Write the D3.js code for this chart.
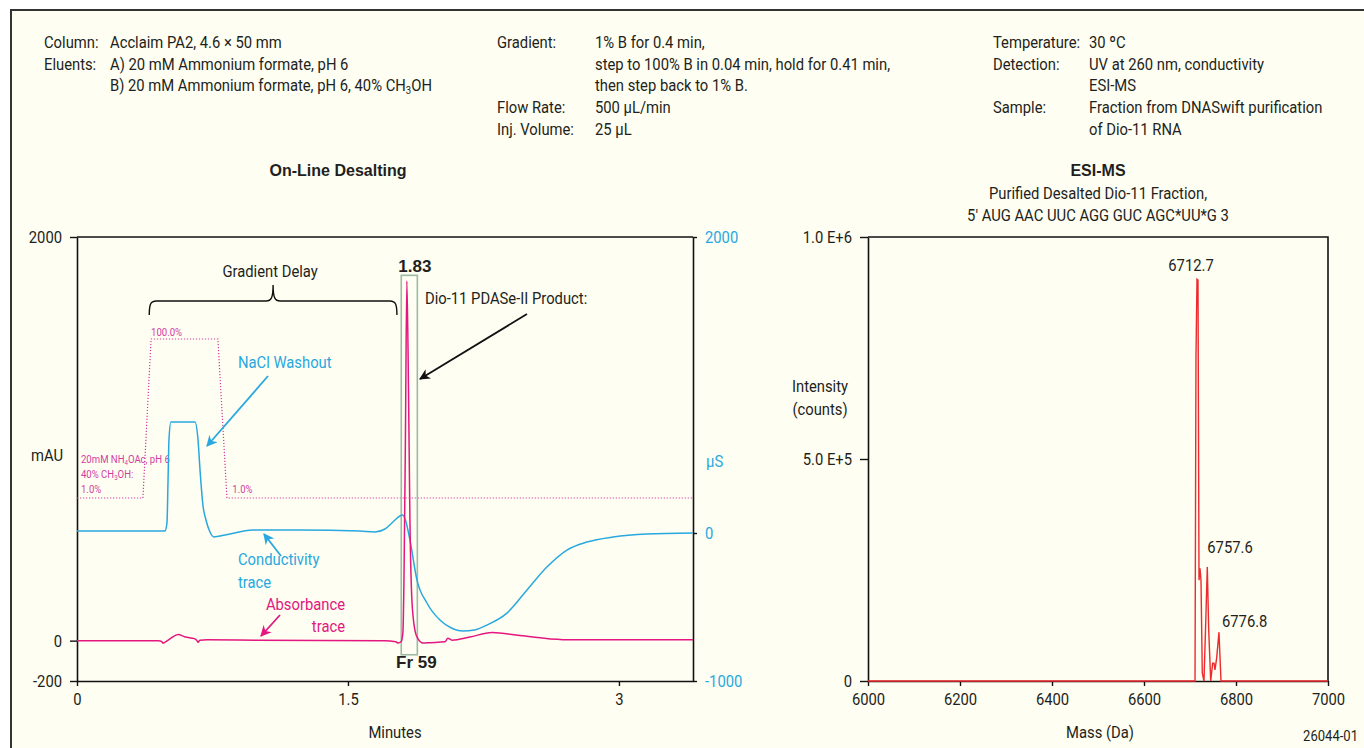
<!DOCTYPE html>
<html><head><meta charset="utf-8">
<script src="https://cdn.jsdelivr.net/npm/d3@7"></script>
<style>
html,body{margin:0;padding:0;background:#fff;}
svg{display:block;}
text{font-family:Roboto,'Liberation Sans',sans-serif;fill:#231f20;}
.bold{font-family:'Liberation Sans',Arial,sans-serif;font-weight:bold;}
</style></head><body>
<svg id="c" width="1364" height="748"></svg>
<script>
// ---------------- DATA ----------------
// Conductivity trace (minutes, µS)
const condTime  = [0, 0.40, 0.487, 0.498, 0.504, 0.509, 0.520, 0.653, 0.670, 0.681, 0.697, 0.714, 0.736, 0.758, 0.819, 0.974, 1.234, 1.566, 1.649, 1.705, 1.749, 1.787, 1.804, 1.821, 1.843, 1.882, 1.937, 2.009, 2.070, 2.136, 2.200, 2.269, 2.380, 2.491, 2.601, 2.712, 2.823, 2.967, 3.155, 3.41];
const condValue = [13, 13, 13, 68, 358, 628, 750, 750, 628, 426, 189, 88, 7, -27, -14, 20, 20, 13, 7, 27, 74, 115, 122, 74, -47, -318, -473, -588, -640, -662, -655, -622, -541, -385, -230, -115, -61, -27, -7, 0];
// Absorbance trace (minutes, mAU)
const absTime  = [0, 0.45, 0.468, 0.476, 0.49, 0.52, 0.559, 0.60, 0.65, 0.664, 0.670, 0.68, 0.72, 1.00, 1.70, 1.765, 1.777, 1.795, 1.804, 1.810, 1.818, 1.826, 1.835, 1.843, 1.854, 1.871, 1.887, 1.915, 1.954, 2.037, 2.053, 2.076, 2.175, 2.297, 2.452, 2.690, 3.41];
const absValue = [0, 0, -4, -12, -6, 12, 30, 18, 10, 0, -8, 2, 4, 2, 0, -5, -12, -4, 40, 300, 1000, 1782, 1250, 600, 200, 50, 10, -12, -10, -6, 12, 2, 18, 40, 25, 5, 5];
// Gradient program (minutes, %B)
const gradTime = [0, 0.365, 0.41, 0.78, 0.83, 3.41];
const gradPctB = [1, 1, 100, 100, 1, 1];
// Fraction 59 collection window
const fracWindow = [1.795, 1.884];
const fracRange  = [-70, 1810];
// Axis ticks
const mauTicks  = [-200, 0, 2000];
const usTicks   = [-1000, 0, 2000];
const timeTicks = [0, 1.5, 3];
const timeTickLabels = ["0", "1.5", "3"];
// ESI-MS spectrum (Da, counts)
const msMass      = [6000, 6710.9, 6713.0, 6715.2, 6717.4, 6719.6, 6721.7, 6723.9, 6726.7, 6730.4, 6734.8, 6737.6, 6740.7, 6745.0, 6749.3, 6752.2, 6754.3, 6758.0, 6763.0, 6765.2, 6767.4, 7000];
const msIntensity = [0, 0, 730000, 905000, 903000, 227000, 254000, 227000, 18000, 0, 153000, 257000, 115000, 0, 40000, 40000, 25000, 52000, 110000, 54000, 0, 0];
const massTicks = [6000, 6200, 6400, 6600, 6800, 7000];
const intensityTicks = [0, 500000, 1000000];
const intensityTickLabels = ["0", "5.0 E+5", "1.0 E+6"];
const peakMass   = [6715.2, 6737.6, 6763.0];
const peakHeight = [905000, 257000, 110000];
const peakLabels = ["6712.7", "6757.6", "6776.8"];

// ---------------- SETUP ----------------
const BLUE = "#29a8df", MAG = "#e3177f", GRAD = "#d23da3", RED = "#ee2a2e", BOX = "#9dbaa4";
const SX = 0.87;   // condensed look
const FS = 17;
const svg = d3.select("#c");
const defs = svg.append("defs");
function marker(id, color) {
  defs.append("marker").attr("id", id).attr("viewBox", "0 0 10 10").attr("refX", 9).attr("refY", 5)
    .attr("markerWidth", 11).attr("markerHeight", 11).attr("markerUnits", "userSpaceOnUse").attr("orient", "auto")
    .append("path").attr("d", "M0,0 L10,5 L0,10 L3,5 Z").attr("fill", color);
}
marker("aBlack", "#111"); marker("aBlue", BLUE); marker("aMag", MAG);

svg.append("rect").attr("width", 1364).attr("height", 748).attr("fill", "#fff");
svg.append("rect").attr("x", 11).attr("y", 10).attr("width", 1353).attr("height", 738).attr("fill", "#fefef2");
svg.append("path").attr("d", "M11,748 L11,10 L1364,10").attr("fill", "none").attr("stroke", "#333").attr("stroke-width", 2);

function txt(x, y, s, opt = {}) {
  const sx = opt.cls === "bold" ? 1 : SX;
  const t = svg.append("text").attr("transform", `translate(${x},${y}) scale(${sx},1)`)
    .attr("font-size", opt.size || FS).attr("text-anchor", opt.anchor || "start").text(s);
  if (opt.fill) t.style("fill", opt.fill);
  if (opt.cls) t.attr("class", opt.cls);
  return t;
}

// ---------------- HEADER ----------------
txt(44, 48, "Column:"); txt(110, 48, "Acclaim PA2, 4.6 × 50 mm");
txt(44, 70, "Eluents:"); txt(110, 70, "A) 20 mM Ammonium formate, pH 6");
const b = txt(110, 91, "B) 20 mM Ammonium formate, pH 6, 40% CH");
b.append("tspan").attr("font-size", 11).attr("dy", 3).text("3");
b.append("tspan").attr("dy", -3).text("OH");

txt(497, 48, "Gradient:"); txt(595, 48, "1% B for 0.4 min,");
txt(595, 70, "step to 100% B in 0.04 min, hold for 0.41 min,");
txt(595, 91, "then step back to 1% B.");
txt(497, 113, "Flow Rate:"); txt(595, 113, "500 µL/min");
txt(497, 135, "Inj. Volume:"); txt(595, 135, "25 µL");

txt(993, 48, "Temperature:"); txt(1089, 48, "30 ºC");
txt(993, 70, "Detection:"); txt(1089, 70, "UV at 260 nm, conductivity");
txt(1089, 91, "ESI-MS");
txt(993, 113, "Sample:"); txt(1089, 113, "Fraction from DNASwift purification");
txt(1089, 135, "of Dio-11 RNA");

// ---------------- LEFT CHART ----------------
const xL = d3.scaleLinear().domain([0, 3.41]).range([77, 693]);
const yL = d3.scaleLinear().domain([-200, 2000]).range([681, 237]);
const yR = d3.scaleLinear().domain([-1000, 2000]).range([681, 237]);
const yG = d3.scaleLinear().domain([1, 100]).range([498, 339]);

txt(338, 176, "On-Line Desalting", {anchor: "middle", size: 16, cls: "bold"});

function styleAxis(g, color) {
  g.selectAll("path.domain").attr("stroke", "#111").attr("stroke-width", 1.6);
  g.selectAll(".tick line").attr("stroke", "#111").attr("stroke-width", 1.4);
  g.selectAll(".tick text").each(function () {
    const t = d3.select(this);
    const x = +t.attr("x") || 0, y = +t.attr("y") || 0;
    t.attr("x", 0).attr("y", 0).attr("transform", `translate(${x},${y}) scale(${SX},1)`);
  }).attr("font-size", FS).attr("font-family", null).style("fill", color || "#231f20");
}
svg.append("line").attr("x1", xL(0)).attr("x2", xL(3.41)).attr("y1", yL(2000)).attr("y2", yL(2000))
  .attr("stroke", "#111").attr("stroke-width", 1.6);
const gLeft = svg.append("g").attr("transform", `translate(${xL(0)},0)`)
  .call(d3.axisLeft(yL).tickValues(mauTicks).tickSize(7).tickSizeOuter(0).tickPadding(8).tickFormat(d => String(d)));
styleAxis(gLeft);
const gRight = svg.append("g").attr("transform", `translate(${xL(3.41)},0)`)
  .call(d3.axisRight(yR).tickValues(usTicks).tickSize(4).tickSizeOuter(0).tickPadding(8).tickFormat(d => String(d)));
styleAxis(gRight, BLUE);
const gBot = svg.append("g").attr("transform", `translate(0,${yL(-200)})`)
  .call(d3.axisBottom(xL).tickValues(timeTicks).tickSize(5).tickSizeOuter(0).tickPadding(7).tickFormat((d, i) => timeTickLabels[i]));
styleAxis(gBot);

txt(63, 461, "mAU", {anchor: "end"});
txt(706, 467, "µS", {fill: BLUE});
txt(395, 738, "Minutes", {anchor: "middle"});

// gradient (dotted)
const gradData = gradTime.map((t, i) => [t, gradPctB[i]]);
svg.append("path").datum(gradData)
  .attr("d", d3.line().x(d => xL(d[0])).y(d => yG(d[1])))
  .attr("fill", "none").attr("stroke", GRAD).attr("stroke-width", 1.2).attr("stroke-dasharray", "1.2,1.8");
const gs = 11;
txt(xL(0.41), yG(100) - 3, "100.0%", {size: gs, fill: GRAD});
const n1 = txt(81, 463, "20mM NH", {size: gs, fill: GRAD});
n1.append("tspan").attr("font-size", 7).attr("dy", 2).text("4");
n1.append("tspan").attr("dy", -2).text("OAc, pH 6");
const n2 = txt(81, 478, "40% CH", {size: gs, fill: GRAD});
n2.append("tspan").attr("font-size", 7).attr("dy", 2).text("3");
n2.append("tspan").attr("dy", -2).text("OH:");
txt(81, 493, "1.0%", {size: gs, fill: GRAD});
txt(xL(0.86), 493, "1.0%", {size: gs, fill: GRAD});

// fraction box
svg.append("rect").attr("x", xL(fracWindow[0])).attr("y", yL(fracRange[1]))
  .attr("width", xL(fracWindow[1]) - xL(fracWindow[0])).attr("height", yL(fracRange[0]) - yL(fracRange[1]))
  .attr("fill", "none").attr("stroke", BOX).attr("stroke-width", 1.6);

// conductivity
const condData = condTime.map((t, i) => [t, condValue[i]]);
svg.append("path").datum(condData)
  .attr("d", d3.line().x(d => xL(d[0])).y(d => yR(d[1])).curve(d3.curveMonotoneX))
  .attr("fill", "none").attr("stroke", BLUE).attr("stroke-width", 1.5);
// absorbance
const absData = absTime.map((t, i) => [t, absValue[i]]);
svg.append("path").datum(absData)
  .attr("d", d3.line().x(d => xL(d[0])).y(d => yL(d[1])).curve(d3.curveMonotoneX))
  .attr("fill", "none").attr("stroke", MAG).attr("stroke-width", 1.5);

// labels on peak
txt(xL(1.826) + 8, 272, "1.83", {anchor: "middle", size: 17, cls: "bold"});
txt(xL(1.84) + 7, 668, "Fr 59", {anchor: "middle", size: 17, cls: "bold"});

// Gradient delay bracket
const bx0 = xL(0.40), bx1 = xL(1.771), bm = (bx0 + bx1) / 2, by = 301;
svg.append("path")
  .attr("d", `M${bx0},315 C${bx0},305 ${bx0 + 1},${by} ${bx0 + 7},${by} L${bm - 7},${by} C${bm - 2},${by} ${bm},${by - 3} ${bm},285 C${bm},${by - 3} ${bm + 2},${by} ${bm + 7},${by} L${bx1 - 7},${by} C${bx1 - 1},${by} ${bx1},305 ${bx1},315`)
  .attr("fill", "none").attr("stroke", "#111").attr("stroke-width", 1.4);
txt(bm - 3, 277, "Gradient Delay", {anchor: "middle"});

// annotations with arrows
txt(425, 304, "Dio-11 PDASe-II Product:");
svg.append("line").attr("x1", 527).attr("y1", 314).attr("x2", 420).attr("y2", 379)
  .attr("stroke", "#111").attr("stroke-width", 1.8).attr("marker-end", "url(#aBlack)");
txt(238, 368, "NaCl Washout", {fill: BLUE});
svg.append("line").attr("x1", 268).attr("y1", 376).attr("x2", 207).attr("y2", 446)
  .attr("stroke", BLUE).attr("stroke-width", 1.8).attr("marker-end", "url(#aBlue)");
txt(238, 565, "Conductivity", {fill: BLUE});
txt(238, 588, "trace", {fill: BLUE});
svg.append("line").attr("x1", 281).attr("y1", 556).attr("x2", 264).attr("y2", 534)
  .attr("stroke", BLUE).attr("stroke-width", 1.8).attr("marker-end", "url(#aBlue)");
txt(345, 610, "Absorbance", {anchor: "end", fill: MAG});
txt(345, 632, "trace", {anchor: "end", fill: MAG});
svg.append("line").attr("x1", 280).attr("y1", 615).attr("x2", 261).attr("y2", 636)
  .attr("stroke", MAG).attr("stroke-width", 1.8).attr("marker-end", "url(#aMag)");

// ---------------- RIGHT CHART ----------------
const xM = d3.scaleLinear().domain([6000, 7000]).range([868, 1328]);
const yM = d3.scaleLinear().domain([0, 1000000]).range([681, 237]);

txt(1098, 176, "ESI-MS", {anchor: "middle", size: 16, cls: "bold"});
txt(1098, 199, "Purified Desalted Dio-11 Fraction,", {anchor: "middle"});
txt(1098, 221, "5' AUG AAC UUC AGG GUC AGC*UU*G 3", {anchor: "middle"});

svg.append("path").attr("d", `M${xM(6000)},${yM(1e6)} L${xM(7000)},${yM(1e6)} L${xM(7000)},${yM(0)}`)
  .attr("fill", "none").attr("stroke", "#111").attr("stroke-width", 1.6);
const gML = svg.append("g").attr("transform", `translate(${xM(6000)},0)`)
  .call(d3.axisLeft(yM).tickValues(intensityTicks).tickSize(8).tickSizeOuter(0).tickPadding(8).tickFormat((d, i) => intensityTickLabels[i]));
styleAxis(gML);
const gMB = svg.append("g").attr("transform", `translate(0,${yM(0)})`)
  .call(d3.axisBottom(xM).tickValues(massTicks).tickSize(5).tickSizeOuter(0).tickPadding(7).tickFormat(d3.format("d")));
styleAxis(gMB);

const msData = msMass.map((m, i) => [m, msIntensity[i]]);
svg.append("path").datum(msData)
  .attr("d", d3.line().x(d => xM(d[0])).y(d => yM(d[1])))
  .attr("fill", "none").attr("stroke", RED).attr("stroke-width", 1.4);

peakLabels.forEach((s, i) => {
  const px = xM(peakMass[i]), py = yM(peakHeight[i]);
  if (i === 0) txt(px - 6, py - 8, s, {anchor: "middle"});
  else if (i === 1) txt(px, py - 14, s);
  else txt(px + 3, py - 5, s);
});

txt(820, 392, "Intensity", {anchor: "middle"});
txt(820, 415, "(counts)", {anchor: "middle"});
txt(1100, 738, "Mass (Da)", {anchor: "middle"});
txt(1358, 741, "26044-01", {anchor: "end", size: 15});
</script>
</body></html>
